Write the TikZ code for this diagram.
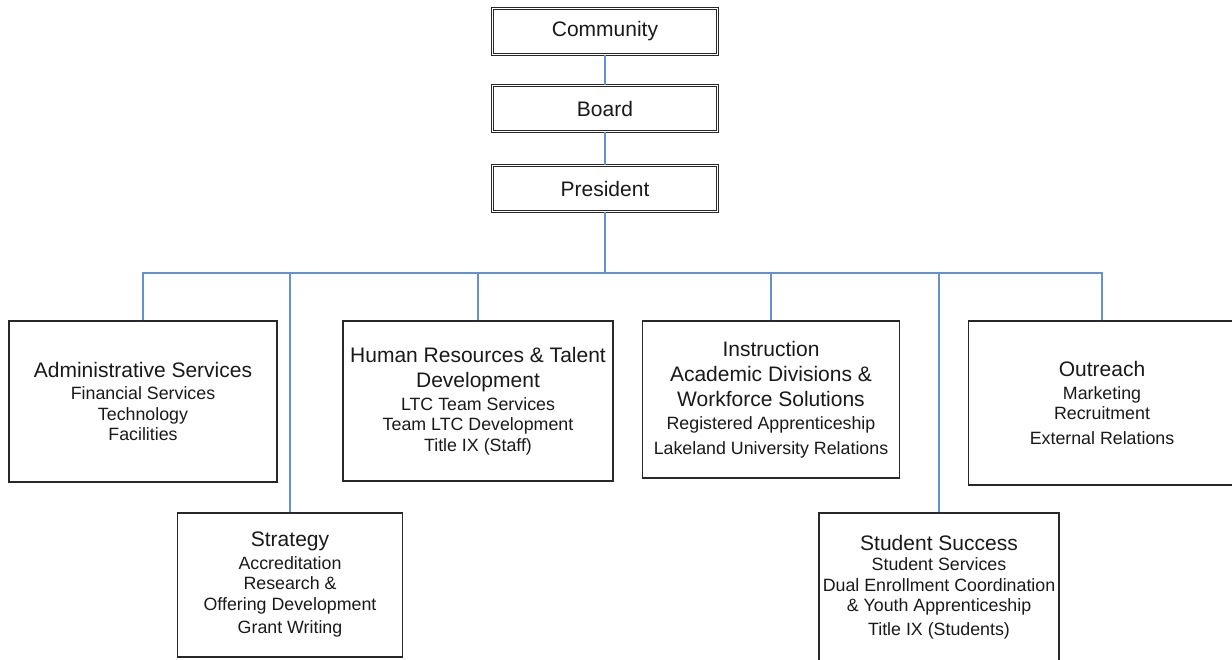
\documentclass[tikz,border=0pt]{standalone}
\usepackage{fontspec}
\setmainfont{Liberation Sans}
\definecolor{linkblue}{RGB}{100,145,212}
\definecolor{boxline}{RGB}{40,40,40}
\definecolor{txt}{RGB}{25,25,25}
\newcommand{\ttl}{\fontsize{21}{25}\selectfont}
\newcommand{\subt}{\fontsize{17.8}{20.5}\selectfont}
\begin{document}
\begin{tikzpicture}[x=1pt,y=-1pt,
  topbox/.style={draw=boxline, double=white, double distance=1.6pt, line width=0.9pt,
    minimum width=225pt, minimum height=46pt, inner sep=0pt, text=txt,
    font=\fontsize{21}{25}\selectfont},
  orgbox/.style={draw=boxline, line width=1.3pt, inner sep=0pt, align=center,
    text=txt, font=\subt},
  link/.style={draw=linkblue, line width=1.5pt}]
\useasboundingbox (0,0) rectangle (1232,660);

\node[topbox] (comm) at (605,31.5) {Community};
\node[topbox] (board) at (605,108.5) {Board};
\node[topbox] (pres) at (605,188.5) {President};

\node[orgbox, minimum width=268pt, minimum height=161pt] (admin) at (143,401.5)
  {{\ttl Administrative Services}\\[2pt]Financial Services\\Technology\\Facilities};
\node[orgbox, minimum width=270pt, minimum height=160pt] (hr) at (478,401)
  {{\ttl Human Resources \& Talent}\\[5pt]{\ttl Development}\\[2pt]LTC Team Services\\Team LTC Development\\Title IX (Staff)};
\node[orgbox, minimum width=257pt, minimum height=157pt] (instr) at (771,399.5)
  {{\ttl Instruction}\\[4.5pt]{\ttl Academic Divisions \&}\\[4.5pt]{\ttl Workforce Solutions}\\[3pt]Registered Apprenticeship\\[4pt]Lakeland University Relations};
\node[orgbox, minimum width=267pt, minimum height=164pt] (outr) at (1102,403)
  {{\ttl Outreach}\\[2pt]Marketing\\Recruitment\\[4pt]External Relations};
\node[orgbox, minimum width=225pt, minimum height=144pt] (strat) at (290,585)
  {{\ttl Strategy}\\[2pt]Accreditation\\Research \&\\Offering Development\\[3pt]Grant Writing};
\node[orgbox, minimum width=240pt, minimum height=148pt] (stud) at (939,587)
  {{\ttl Student Success}\\[0pt]Student Services\\Dual Enrollment Coordination\\\& Youth Apprenticeship\\[3pt]Title IX (Students)};

\coordinate (bus) at (605,273);
\draw[link] (comm.south) -- (board.north);
\draw[link] (board.south) -- (pres.north);
\draw[link] (pres.south) -- (bus);
\foreach \n in {admin,strat,hr,instr,stud,outr}
  \draw[link] (\n.north) |- (bus);
\end{tikzpicture}
\end{document}
